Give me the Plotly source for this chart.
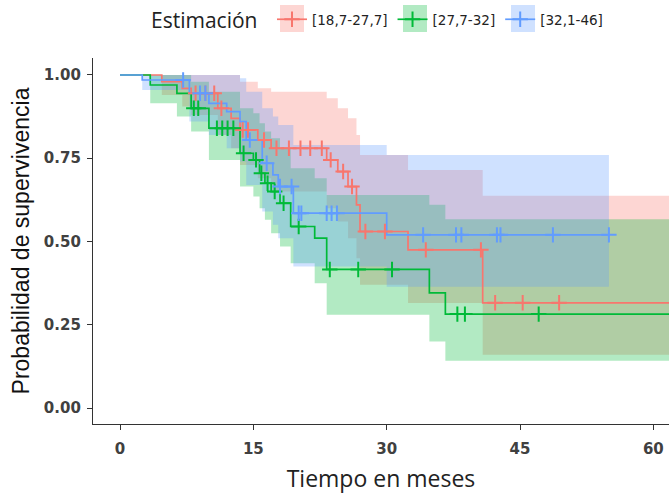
import plotly.graph_objects as go

# Kaplan-Meier estimates per group: event times, survival, 95% CI bounds, censoring times
grupos = ["[18,7-27,7]", "[27,7-32]", "[32,1-46]"]

t_1 = [0, 4.7, 7.0, 8.0, 11.0, 12.5, 13.5, 15.5, 17.0, 23.25, 24.5, 25.65, 26.6, 27.0, 32.4, 40.8]
s_1 = [1.0, 0.98, 0.96, 0.945, 0.90, 0.87, 0.835, 0.805, 0.78, 0.745, 0.71, 0.665, 0.61, 0.53, 0.475, 0.316]
hi_1 = [1.0, 1.0, 1.0, 1.0, 1.0, 1.0, 0.98, 0.96, 0.95, 0.93, 0.90, 0.87, 0.82, 0.76, 0.715, 0.637]
lo_1 = [1.0, 0.94, 0.905, 0.88, 0.82, 0.78, 0.73, 0.69, 0.65, 0.60, 0.56, 0.51, 0.45, 0.37, 0.315, 0.16]
cens_1 = [8.5, 9.6, 10.6, 11.4, 13.8, 14.4, 16.2, 17.6, 19.0, 20.3, 21.4, 22.7, 23.7, 25.1, 26.1,
          27.6, 29.8, 34.4, 40.6, 42.2, 45.3, 49.4]
fin_1 = 63.0

t_2 = [0, 3.4, 6.4, 8.0, 10.0, 13.5, 15.0, 15.7, 16.3, 17.0, 18.0, 19.2, 21.9, 23.25, 34.8, 36.6]
s_2 = [1.0, 0.97, 0.945, 0.90, 0.84, 0.765, 0.745, 0.705, 0.675, 0.65, 0.615, 0.545, 0.51, 0.416, 0.346, 0.282]
hi_2 = [1.0, 1.0, 1.0, 0.98, 0.95, 0.90, 0.885, 0.855, 0.83, 0.81, 0.78, 0.72, 0.69, 0.64, 0.61, 0.567]
lo_2 = [1.0, 0.915, 0.875, 0.83, 0.745, 0.665, 0.635, 0.60, 0.565, 0.525, 0.485, 0.435, 0.375, 0.28, 0.20, 0.142]
cens_2 = [8.3, 8.8, 10.9, 11.5, 12.1, 12.75, 13.9, 15.3, 15.9, 16.6, 17.4, 18.4, 20.1, 23.6, 26.8, 30.6,
          37.95, 38.8, 47.1]
fin_2 = 63.0

t_3 = [0, 2.5, 7.8, 10.0, 12.0, 13.5, 14.2, 16.0, 17.2, 17.8, 19.5, 30.0]
s_3 = [1.0, 0.985, 0.945, 0.915, 0.89, 0.86, 0.805, 0.735, 0.70, 0.665, 0.585, 0.52]
hi_3 = [1.0, 1.0, 1.0, 1.0, 1.0, 0.99, 0.95, 0.90, 0.875, 0.85, 0.79, 0.76]
lo_3 = [1.0, 0.955, 0.86, 0.82, 0.78, 0.74, 0.67, 0.59, 0.55, 0.51, 0.425, 0.364]
cens_3 = [7.1, 9.0, 9.6, 14.6, 16.5, 18.0, 19.3, 20.1, 20.4, 23.25, 23.8, 24.4, 34.1, 37.8, 38.4,
          42.4, 42.8, 48.7, 55.0]
fin_3 = 55.0

colores = ["#F8766D", "#00BA38", "#619CFF"]
rellenos = ["rgba(248,118,109,0.3)", "rgba(0,186,56,0.3)", "rgba(97,156,255,0.3)"]

x_ticks = [0, 15, 30, 45, 60]
y_ticks = [0, 0.25, 0.5, 0.75, 1.0]
y_labels = ["0.00", "0.25", "0.50", "0.75", "1.00"]

series = [
    (t_1, s_1, hi_1, lo_1, cens_1, fin_1),
    (t_2, s_2, hi_2, lo_2, cens_2, fin_2),
    (t_3, s_3, hi_3, lo_3, cens_3, fin_3),
]


def escalon(t, v, fin):
    return list(t) + [fin], list(v) + [v[-1]]


def valor_en(t, v, x):
    out = v[0]
    for ti, vi in zip(t, v):
        if ti <= x:
            out = vi
    return out


fig = go.Figure()

# confidence ribbons
for (t, s, hi, lo, cens, fin), fc in zip(series, rellenos):
    xu, yu = escalon(t, hi, fin)
    xl, yl = escalon(t, lo, fin)
    fig.add_trace(go.Scatter(x=xu, y=yu, mode="lines", line=dict(width=0, shape="hv"),
                             showlegend=False, hoverinfo="skip"))
    fig.add_trace(go.Scatter(x=xl, y=yl, mode="lines", line=dict(width=0, shape="hv"),
                             fill="tonexty", fillcolor=fc, showlegend=False, hoverinfo="skip"))

# survival curves
for (t, s, hi, lo, cens, fin), c, g in zip(series, colores, grupos):
    xs, ys = escalon(t, s, fin)
    fig.add_trace(go.Scatter(x=xs, y=ys, mode="lines", line=dict(color=c, width=1.7, shape="hv"),
                             name=g, showlegend=False))

# censoring marks
for (t, s, hi, lo, cens, fin), c, g in zip(series, colores, grupos):
    fig.add_trace(go.Scatter(
        x=cens, y=[valor_en(t, s, x) for x in cens], mode="markers",
        marker=dict(symbol="cross-thin", size=11, line=dict(color=c, width=2)),
        name=g, showlegend=False))

# legend keys
for c, g in zip(colores, grupos):
    fig.add_trace(go.Scatter(
        x=[None], y=[None], mode="lines+markers", name=g,
        line=dict(color=c, width=1.7),
        marker=dict(symbol="cross-thin", size=11, line=dict(color=c, width=2))))

W, H, L, T, B = 669, 494, 93, 58, 70
pw, ph = W - L, H - T - B


def px_x(v):
    return (v - L) / pw


def px_y(v):
    return (H - B - v) / ph


# pale key boxes behind the legend symbols
cajas = [(280, 304), (403, 427), (511, 535)]
for (a, b), fc in zip(cajas, rellenos):
    fig.add_shape(type="rect", xref="paper", yref="paper",
                  x0=px_x(a), x1=px_x(b), y0=px_y(32), y1=px_y(5),
                  fillcolor=fc, line=dict(width=0), layer="below")

fig.add_annotation(text="Estimación", xref="paper", yref="paper", x=px_x(149), y=px_y(20),
                   xanchor="left", yanchor="middle", showarrow=False,
                   font=dict(family="Open Sans", size=21, color="#222222"))

tick_font = dict(family="DejaVu Sans", size=15, color="#404040", weight="bold")
axis_common = dict(showgrid=False, zeroline=False, showline=True, linecolor="#333333",
                   linewidth=1.3, ticks="outside", ticklen=5, tickcolor="#333333", tickwidth=1.2,
                   tickfont=tick_font)

fig.update_layout(
    width=W, height=H,
    margin=dict(l=L, r=0, t=T, b=B),
    plot_bgcolor="white", paper_bgcolor="white",
    xaxis=dict(range=[-3.04, 61.76], tickvals=x_ticks, ticklabelstandoff=6,
               title=dict(text="Tiempo en meses", standoff=14,
                          font=dict(family="Open Sans", size=23, color="#222222")),
               **axis_common),
    yaxis=dict(range=[-0.048, 1.051], tickvals=y_ticks, ticktext=y_labels, ticklabelstandoff=3,
               title=dict(text="Probabilidad de supervivencia", standoff=7,
                          font=dict(family="Liberation Sans", size=23, color="#111111")),
               **axis_common),
    legend=dict(orientation="h", traceorder="normal", x=px_x(272), xanchor="left",
                y=px_y(4), yanchor="top",
                font=dict(family="DejaVu Sans", size=13.5, color="#222222"),
                itemwidth=30, bgcolor="rgba(0,0,0,0)"),
)

fig.write_html("out.html")
